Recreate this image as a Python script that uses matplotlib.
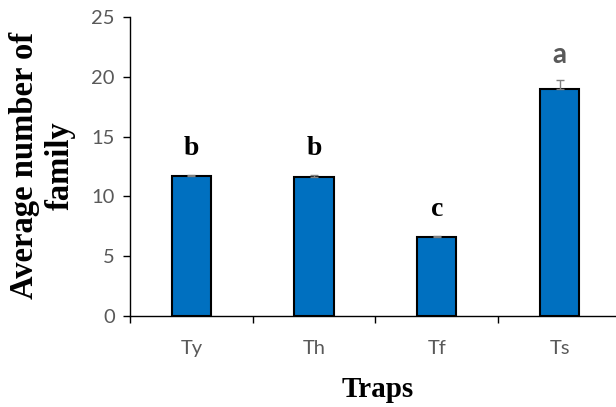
import matplotlib
matplotlib.use("Agg")
import matplotlib.pyplot as plt
import numpy as np

# data
traps = ["Ty", "Th", "Tf", "Ts"]
mean_family = [11.7, 11.6, 6.6, 19.0]
err_family = [0.1, 0.2, 0.05, 0.7]
letters = ["b", "b", "c", "a"]

fig = plt.figure(figsize=(6.16, 4.07), dpi=100)
# axis line runs a bit past the right edge, like in the original
ax = fig.add_axes([0.211, 0.2236, 0.797, 0.7346])

x = np.arange(len(traps))
# only the upper half of the error bar is visible
yerr = [np.zeros(len(err_family)), err_family]
ax.bar(x, mean_family, width=0.32, color="#0070C0", edgecolor="black", linewidth=1.5,
       yerr=yerr, error_kw=dict(ecolor="#7f7f7f", capsize=3, elinewidth=1, capthick=1))

# significance letters: a is drawn in grey sans, the rest in black serif
for i, (m, e, s) in enumerate(zip(mean_family, err_family, letters)):
    if s == "a":
        ax.text(x[i], m + e + 1.0, s, ha="center", va="bottom", fontsize=20,
                fontweight="bold", color="#595959", family="Lato")
    else:
        ax.text(x[i], m + e + 1.2, s, ha="center", va="bottom", fontsize=20,
                fontweight="bold", color="black", family="Liberation Serif")

ax.set_xlim(-0.5, 3.5)
ax.set_ylim(0, 25)
ax.set_yticks([0, 5, 10, 15, 20, 25])
ax.set_xticks(x)
ax.set_xticklabels(traps)
ax.set_xticks(np.arange(-0.5, 4, 1), minor=True)

for side in ["top", "right"]:
    ax.spines[side].set_visible(False)
for side in ["left", "bottom"]:
    ax.spines[side].set_linewidth(1.0)
    ax.spines[side].set_color("black")

ax.tick_params(axis="y", direction="out", length=5, width=1, pad=6,
               labelsize=14.5, labelcolor="#595959")
ax.tick_params(axis="x", which="major", length=0, pad=17, labelsize=14.5, labelcolor="#595959")
ax.tick_params(axis="x", which="minor", direction="out", length=5, width=1)
for lab in ax.get_xticklabels() + ax.get_yticklabels():
    lab.set_family("Lato")

fig.text(0.069, 0.594, "Average number of\nfamily", rotation=90, ha="center", va="center",
         multialignment="center", fontsize=23.5, fontweight="bold", family="Liberation Serif",
         linespacing=1.22)
fig.text(0.613, 0.044, "Traps", ha="center", va="center", fontsize=21,
         fontweight="bold", family="Liberation Serif")

fig.savefig("out.png", dpi=100)
